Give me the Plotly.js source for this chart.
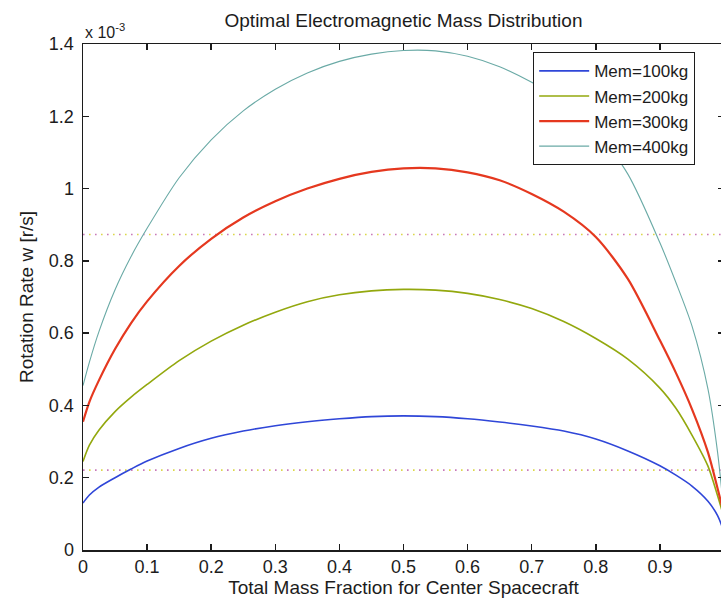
<!DOCTYPE html>
<html>
<head>
<meta charset="utf-8">
<script src="https://cdn.plot.ly/plotly-3.0.1.min.js"></script>
<style>
html, body { margin: 0; padding: 0; overflow: hidden; background: #fff; }
#chart { width: 724px; height: 602px; }
</style>
</head>
<body>
<div id="chart"></div>
<script>
// Total mass fraction for center spacecraft
var massFraction = [0, 0.01, 0.025, 0.05, 0.075, 0.1, 0.15, 0.2, 0.25, 0.3, 0.35, 0.4, 0.45, 0.5,
                    0.55, 0.6, 0.65, 0.7, 0.75, 0.8, 0.85, 0.9, 0.925, 0.95, 0.975, 0.99, 1.0];
// Rotation rate w [r/s], in units of 1e-3
var rate100 = [0.130, 0.152, 0.174, 0.200, 0.224, 0.246, 0.281, 0.309, 0.329, 0.344, 0.355, 0.363, 0.369, 0.371,
               0.369, 0.363, 0.354, 0.343, 0.329, 0.307, 0.274, 0.233, 0.207, 0.177, 0.135, 0.095, 0.050];
var rate200 = [0.245, 0.290, 0.332, 0.383, 0.423, 0.458, 0.524, 0.578, 0.622, 0.658, 0.687, 0.706, 0.717, 0.721,
               0.719, 0.710, 0.693, 0.668, 0.632, 0.585, 0.528, 0.448, 0.392, 0.318, 0.232, 0.150, 0.090];
var rate300 = [0.355, 0.410, 0.470, 0.556, 0.628, 0.688, 0.786, 0.861, 0.920, 0.965, 1.000, 1.027, 1.046, 1.056,
               1.056, 1.045, 1.023, 0.985, 0.936, 0.866, 0.750, 0.580, 0.490, 0.390, 0.270, 0.170, 0.100];
var rate400 = [0.455, 0.520, 0.605, 0.720, 0.812, 0.890, 1.030, 1.135, 1.215, 1.275, 1.320, 1.352, 1.372, 1.382,
               1.381, 1.366, 1.337, 1.294, 1.240, 1.160, 1.040, 0.850, 0.740, 0.620, 0.445, 0.270, 0.100];
var seriesNames = ["Mem=100kg", "Mem=200kg", "Mem=300kg", "Mem=400kg"];
// Horizontal dotted reference levels (units of 1e-3)
var refX = [0, 1];
var refLevelHigh = [0.873, 0.873];
var refLevelLow = [0.221, 0.221];
var xTicks = [0, 0.1, 0.2, 0.3, 0.4, 0.5, 0.6, 0.7, 0.8, 0.9, 1];
var yTicks = [0, 0.2, 0.4, 0.6, 0.8, 1, 1.2, 1.4];

var FONT = "Liberation Sans, Arial, sans-serif";
var curveStyles = [
  {color: "#2f46d8", width: 1.6},
  {color: "#93a80e", width: 1.6},
  {color: "#e5381f", width: 2.2},
  {color: "#6aaaa6", width: 1.1}
];
var curveData = [rate100, rate200, rate300, rate400];

var traces = [];
function refTraces(levels) {
  traces.push({x: refX, y: levels, mode: "lines", showlegend: false, hoverinfo: "skip",
    line: {color: "#c87ab8", width: 1.6, dash: "1.6px,10.4px"}});
  traces.push({x: refX, y: levels, mode: "lines", showlegend: false, hoverinfo: "skip",
    line: {color: "#dcd84a", width: 1.6, dash: "0px,6px,1.6px,4.4px"}});
}
refTraces(refLevelHigh);
refTraces(refLevelLow);
for (var i = 0; i < 4; i++) {
  traces.push({
    x: massFraction, y: curveData[i], mode: "lines", name: seriesNames[i],
    line: {color: curveStyles[i].color, width: curveStyles[i].width, shape: "spline", smoothing: 0.8}
  });
}

var axisCommon = {
  showline: true, linecolor: "#1c1c1c", linewidth: 1.5,
  mirror: "ticks", ticks: "inside", ticklen: 6, tickwidth: 1.5, tickcolor: "#1c1c1c",
  showgrid: false, zeroline: false,
  tickfont: {family: FONT, size: 18, color: "#1c1c1c"}
};

var layout = {
  width: 724, height: 602,
  margin: {l: 83, r: 0, t: 44, b: 52},
  paper_bgcolor: "#ffffff", plot_bgcolor: "#ffffff",
  font: {family: FONT, color: "#1c1c1c"},
  title: {text: "Optimal Electromagnetic Mass Distribution", font: {family: FONT, size: 19, color: "#1c1c1c"},
          xref: "paper", x: 0.5, xanchor: "center", yref: "container", y: 0.967, yanchor: "middle"},
  xaxis: Object.assign({}, axisCommon, {
    range: [0, 1], tickvals: xTicks, ticktext: xTicks.map(String),
    title: {text: "Total Mass Fraction for Center Spacecraft", font: {family: FONT, size: 19, color: "#1c1c1c"}, standoff: 3}
  }),
  yaxis: Object.assign({}, axisCommon, {
    range: [0, 1.4], tickvals: yTicks, ticktext: yTicks.map(String),
    ticklabelstandoff: 4,
    title: {text: "Rotation Rate w [r/s]", font: {family: FONT, size: 19, color: "#1c1c1c"}, standoff: 10}
  }),
  legend: {
    x: 0.702, y: 0.984, xanchor: "left", yanchor: "top",
    bgcolor: "#ffffff", bordercolor: "#1c1c1c", borderwidth: 1.2,
    font: {family: FONT, size: 17, color: "#1c1c1c"},
    itemwidth: 50,
    tracegroupgap: 0
  },
  annotations: [{
    text: "x 10<sup>-3</sup>", xref: "paper", yref: "paper", x: 0, y: 1,
    xanchor: "left", yanchor: "bottom", yshift: 1, showarrow: false,
    font: {family: FONT, size: 16, color: "#1c1c1c"}
  }]
};

Plotly.newPlot("chart", traces, layout, {staticPlot: true, displayModeBar: false});
</script>
</body>
</html>
